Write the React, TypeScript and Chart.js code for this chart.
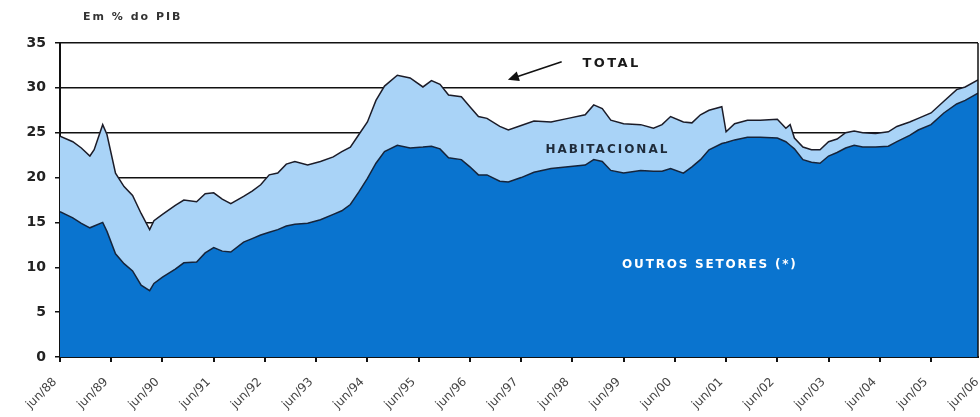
import React, { useEffect, useRef } from "react";
import { Chart, registerables } from "chart.js";

Chart.register(...registerables);

// Month offsets since jun/88
const months = [0, 3, 5, 7, 8, 10, 11, 13, 15, 17, 19, 21, 22, 24, 27, 29, 32, 34, 36, 38, 40, 43, 45, 47, 49, 51, 53, 55, 58, 61, 64, 66, 68, 70, 72, 74, 76, 79, 82, 85, 87, 89, 91, 94, 96, 98, 100, 103, 105, 108, 111, 115, 119, 123, 125, 127, 129, 132, 136, 139, 141, 143, 146, 148, 150, 152, 155, 156, 158, 161, 164, 168, 170, 171, 172, 174, 176, 178, 180, 182, 184, 186, 188, 191, 194, 196, 199, 201, 204, 207, 210, 212, 215];

// Total (% do PIB)
const totalPct = [24.6, 24.0, 23.3, 22.4, 23.1, 25.9, 24.8, 20.5, 19.0, 18.0, 16.0, 14.2, 15.2, 15.9, 16.9, 17.5, 17.3, 18.2, 18.3, 17.6, 17.1, 17.9, 18.5, 19.2, 20.3, 20.5, 21.5, 21.8, 21.4, 21.8, 22.3, 22.9, 23.4, 24.8, 26.2, 28.6, 30.2, 31.4, 31.1, 30.1, 30.8, 30.4, 29.2, 29.0, 27.9, 26.8, 26.6, 25.7, 25.3, 25.8, 26.3, 26.2, 26.6, 27.0, 28.1, 27.7, 26.4, 26.0, 25.9, 25.5, 25.9, 26.8, 26.2, 26.1, 27.0, 27.5, 27.9, 25.1, 26.0, 26.4, 26.4, 26.5, 25.5, 25.9, 24.4, 23.4, 23.1, 23.1, 24.0, 24.3, 25.0, 25.2, 25.0, 24.9, 25.1, 25.7, 26.2, 26.6, 27.2, 28.5, 29.8, 30.1, 30.9];

// Outros setores (% do PIB)
const outrosPct = [16.2, 15.5, 14.9, 14.4, 14.6, 15.0, 14.0, 11.5, 10.4, 9.6, 8.0, 7.4, 8.2, 8.9, 9.8, 10.5, 10.6, 11.6, 12.2, 11.8, 11.7, 12.8, 13.2, 13.6, 13.9, 14.2, 14.6, 14.8, 14.9, 15.3, 15.9, 16.3, 17.0, 18.4, 19.9, 21.6, 22.9, 23.6, 23.3, 23.4, 23.5, 23.2, 22.2, 22.0, 21.2, 20.3, 20.3, 19.6, 19.5, 20.0, 20.6, 21.0, 21.2, 21.4, 22.0, 21.8, 20.8, 20.5, 20.8, 20.7, 20.7, 21.0, 20.5, 21.2, 22.0, 23.1, 23.8, 23.9, 24.2, 24.5, 24.5, 24.4, 24.0, 23.6, 23.2, 22.0, 21.7, 21.6, 22.4, 22.8, 23.3, 23.6, 23.4, 23.4, 23.5, 24.0, 24.7, 25.3, 25.9, 27.2, 28.2, 28.6, 29.4];

// Tick positions (months since jun/88), one per June
const tickMonths = [0, 12, 24, 36, 48, 60, 72, 84, 96, 108, 120, 132, 144, 156, 168, 180, 192, 204, 216];
const tickLabels = ["jun/88", "jun/89", "jun/90", "jun/91", "jun/92", "jun/93", "jun/94", "jun/95", "jun/96", "jun/97", "jun/98", "jun/99", "jun/00", "jun/01", "jun/02", "jun/03", "jun/04", "jun/05", "jun/06"];

const yTicks = [0, 5, 10, 15, 20, 25, 30, 35];

const annotationPlugin = {
  id: "annots",
  afterDatasetsDraw(chart: any) {
    const { ctx, chartArea, scales } = chart;
    const xs = scales.x;
    const ys = scales.y;
    ctx.save();
    // right border
    ctx.strokeStyle = "#111";
    ctx.lineWidth = 1.5;
    ctx.beginPath();
    ctx.moveTo(chartArea.right, chartArea.top);
    ctx.lineTo(chartArea.right, chartArea.bottom);
    ctx.stroke();

    const text = (s: string, m: number, v: number, font: string, color: string, spacing: string) => {
      ctx.font = font;
      (ctx as any).letterSpacing = spacing;
      ctx.fillStyle = color;
      ctx.textAlign = "center";
      ctx.textBaseline = "middle";
      ctx.fillText(s, xs.getPixelForValue(m), ys.getPixelForValue(v));
    };
    text("TOTAL", 129.2, 32.7, "bold 13px 'DejaVu Sans'", "#1a1a1a", "2.4px");
    text("HABITACIONAL", 128.2, 23.1, "bold 12px 'DejaVu Sans'", "#1f2b3a", "2px");
    text("OUTROS SETORES (*)", 152.2, 10.3, "bold 12px 'DejaVu Sans'", "#ffffff", "1.8px");
    (ctx as any).letterSpacing = "0px";

    // arrow
    const x1 = xs.getPixelForValue(117.5), y1 = ys.getPixelForValue(32.9);
    const x2 = xs.getPixelForValue(104.9), y2 = ys.getPixelForValue(30.9);
    const ang = Math.atan2(y2 - y1, x2 - x1);
    const hl = 11, hw = 5;
    ctx.strokeStyle = "#111";
    ctx.lineWidth = 1.6;
    ctx.beginPath();
    ctx.moveTo(x1, y1);
    ctx.lineTo(x2 - hl * Math.cos(ang) * 0.8, y2 - hl * Math.sin(ang) * 0.8);
    ctx.stroke();
    ctx.fillStyle = "#111";
    ctx.beginPath();
    ctx.moveTo(x2, y2);
    ctx.lineTo(x2 - hl * Math.cos(ang) + hw * Math.sin(ang), y2 - hl * Math.sin(ang) - hw * Math.cos(ang));
    ctx.lineTo(x2 - hl * Math.cos(ang) - hw * Math.sin(ang), y2 - hl * Math.sin(ang) + hw * Math.cos(ang));
    ctx.closePath();
    ctx.fill();

    // subtitle
    ctx.font = "bold 11px 'DejaVu Sans'";
    (ctx as any).letterSpacing = "2px";
    ctx.fillStyle = "#333";
    ctx.textAlign = "left";
    ctx.textBaseline = "middle";
    ctx.fillText("Em % do PIB", 83, 17);
    (ctx as any).letterSpacing = "0px";
    ctx.restore();
  },
};

export default function App() {
  const ref = useRef<HTMLCanvasElement | null>(null);
  useEffect(() => {
    if (!ref.current) return;
    const outrosData = months.map((m, i) => ({ x: m, y: outrosPct[i] }));
    const totalData = months.map((m, i) => ({ x: m, y: totalPct[i] }));
    const chart = new Chart(ref.current, {
      type: "line",
      data: {
        datasets: [
          {
            label: "Outros setores",
            data: outrosData,
            borderColor: "#16243a",
            borderWidth: 1.5,
            backgroundColor: "#0a74cf",
            fill: "origin",
            pointRadius: 0,
            tension: 0,
          },
          {
            label: "Total",
            data: totalData,
            borderColor: "#1c1c28",
            borderWidth: 1.5,
            backgroundColor: "#a9d3f7",
            fill: "-1",
            pointRadius: 0,
            tension: 0,
          },
        ],
      },
      options: {
        responsive: false,
        animation: false,
        layout: { padding: { top: 43, right: 2, left: 0, bottom: 0 } },
        plugins: { legend: { display: false }, tooltip: { enabled: false }, title: { display: false } },
        scales: {
          x: {
            type: "linear",
            min: 0,
            max: 215,
            afterBuildTicks: (scale: any) => {
              scale.ticks = tickMonths.map((v) => ({ value: v }));
            },
            afterFit: (scale: any) => {
              scale.height = 60;
              scale.paddingLeft = 0;
              scale.paddingRight = 0;
            },
            ticks: {
              autoSkip: false,
              minRotation: 45,
              maxRotation: 45,
              padding: 13,
              labelOffset: -5,
              color: "#444",
              font: { family: "'DejaVu Sans'", size: 12 },
              callback: (v: any) => {
                const i = tickMonths.indexOf(Number(v));
                return i >= 0 ? tickLabels[i] : "";
              },
            },
            grid: { drawOnChartArea: false, drawTicks: true, tickLength: 5, color: "#111", lineWidth: 2 },
            border: { display: true, color: "#111", width: 2 },
          },
          y: {
            min: 0,
            max: 35,
            afterBuildTicks: (scale: any) => {
              scale.ticks = yTicks.map((v) => ({ value: v }));
            },
            afterFit: (scale: any) => {
              scale.width = 60;
            },
            ticks: {
              padding: 9,
              color: "#222",
              font: { family: "'DejaVu Sans'", size: 14, weight: "bold" },
            },
            grid: { color: "#111", lineWidth: 1.5, tickLength: 5 },
            border: { display: true, color: "#111", width: 2 },
          },
        },
      },
      plugins: [annotationPlugin],
    });
    return () => chart.destroy();
  }, []);
  return (
    <div style={{ position: "absolute", left: 0, top: 0, width: 980, height: 417, background: "#fff" }}>
      <canvas ref={ref} width={980} height={417} />
    </div>
  );
}
